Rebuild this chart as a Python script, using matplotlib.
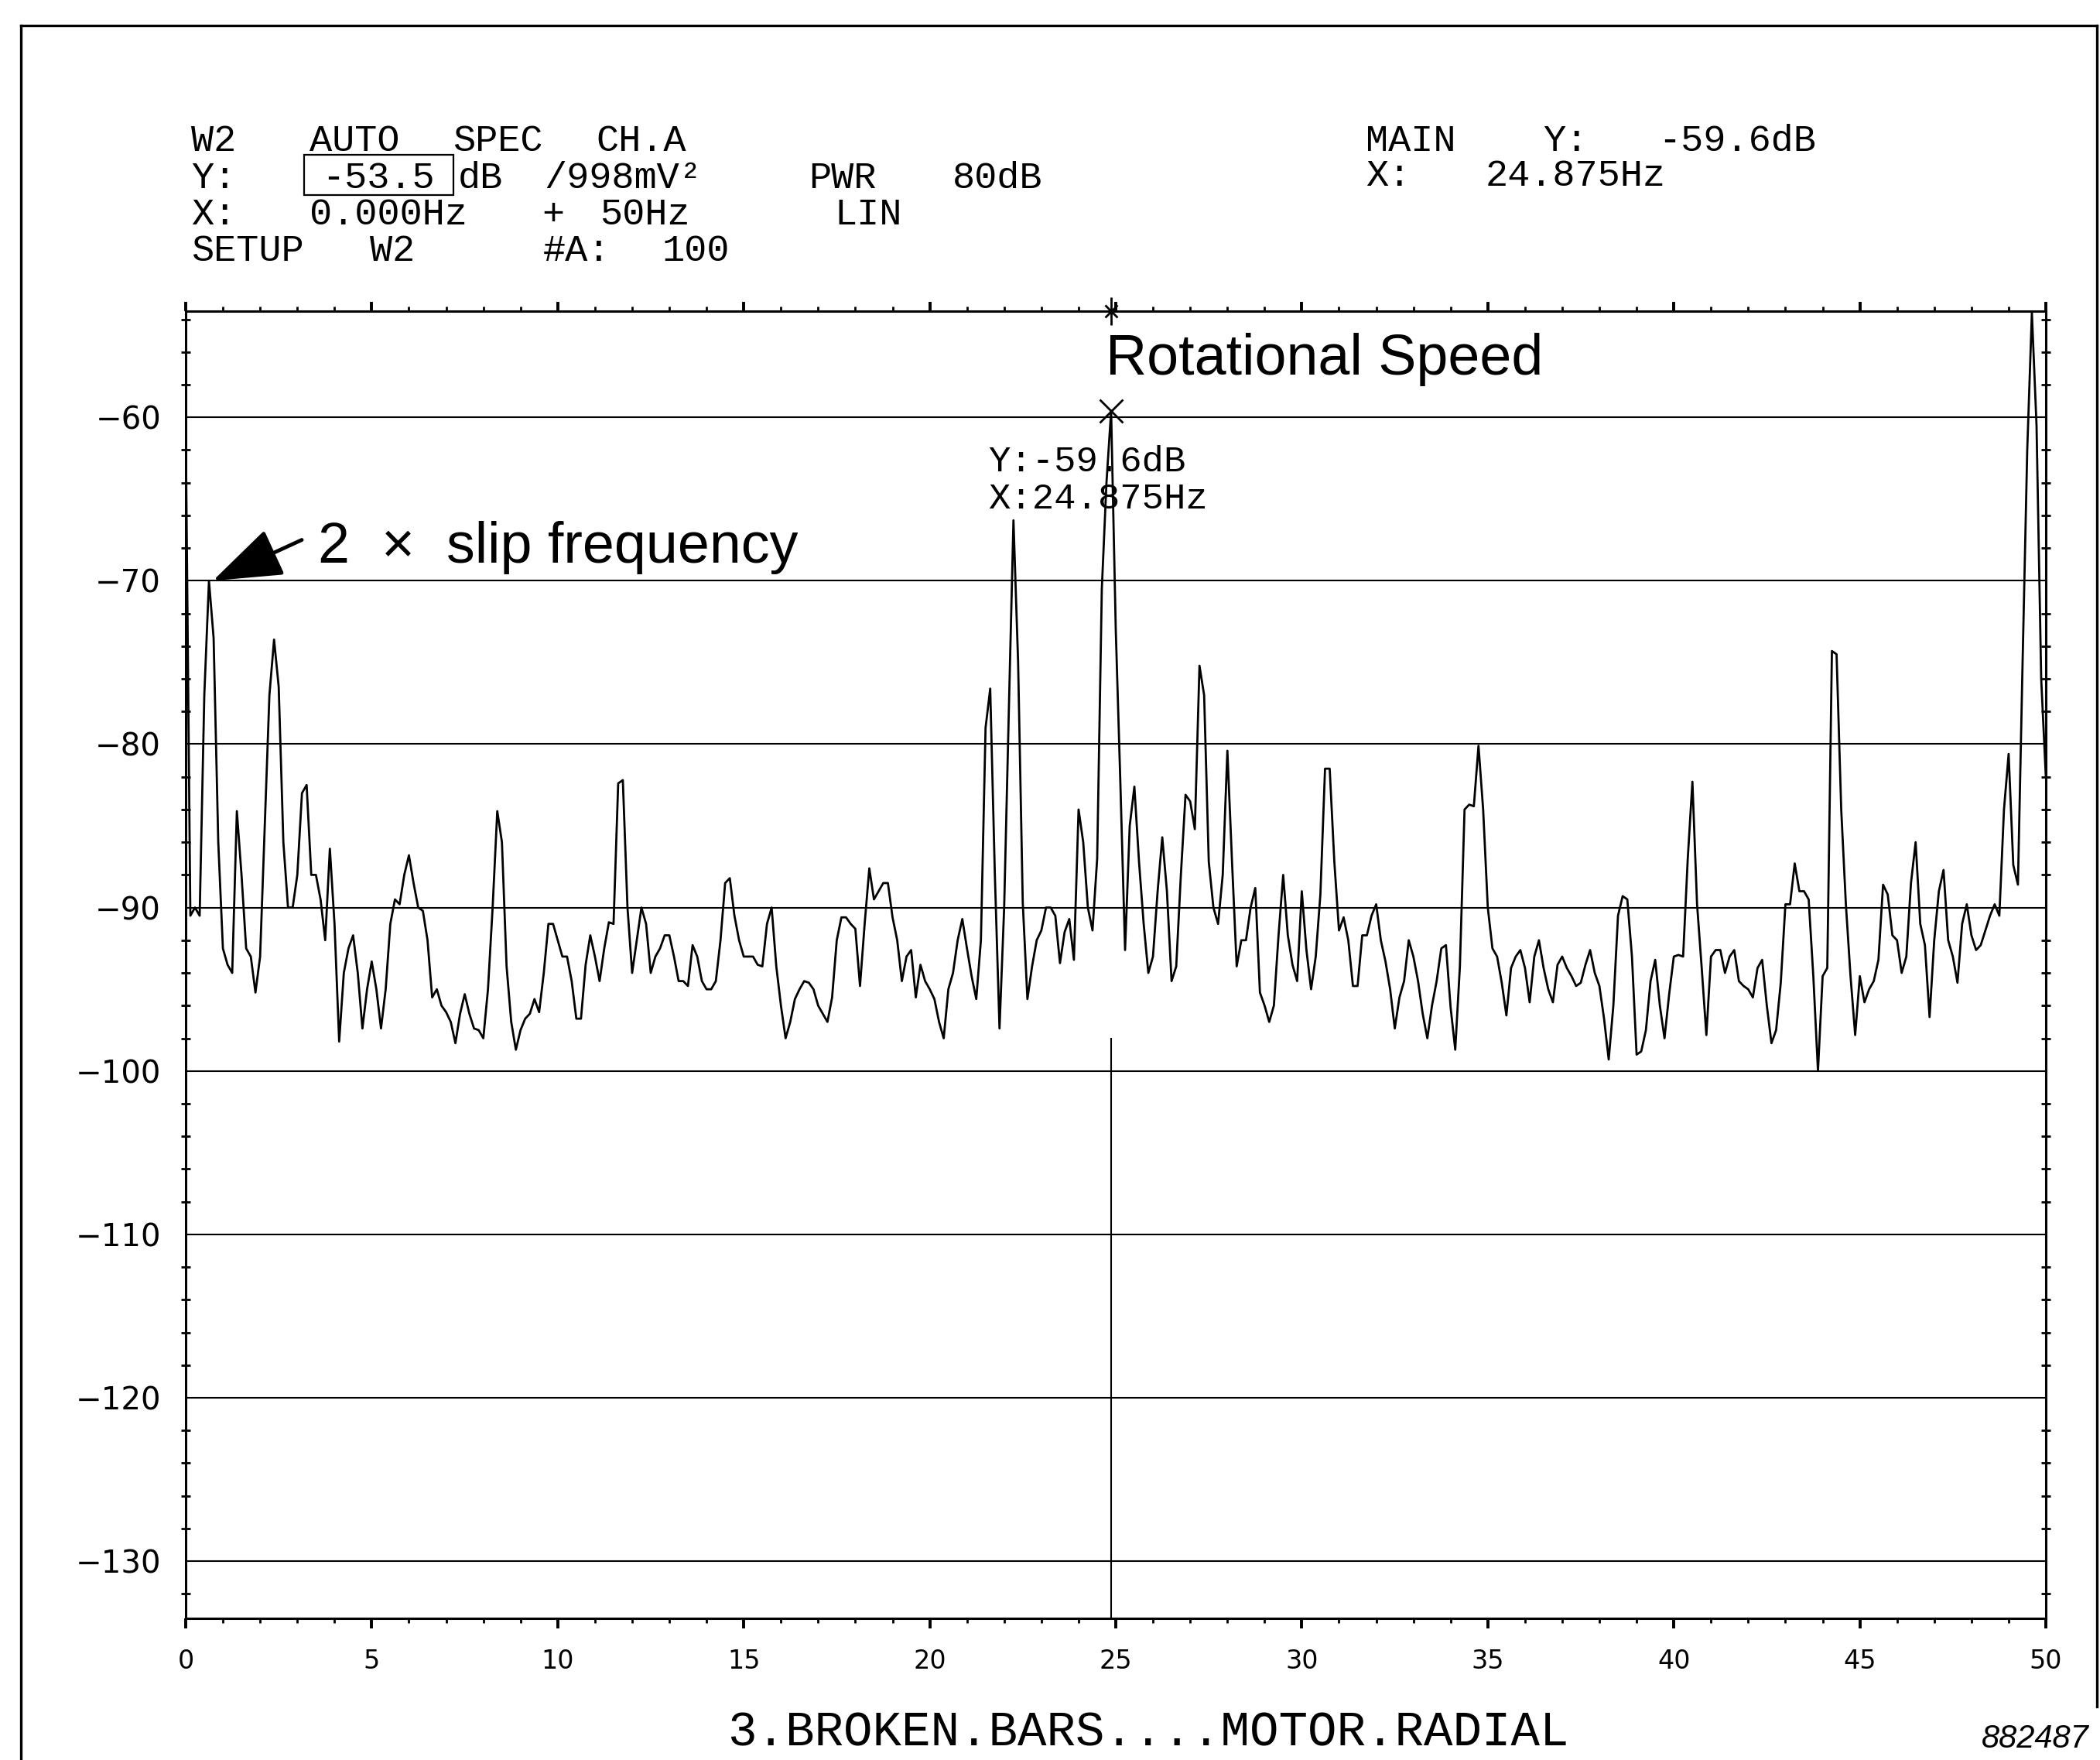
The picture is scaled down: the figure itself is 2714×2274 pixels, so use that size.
import numpy as np
import matplotlib
matplotlib.use("Agg")
import matplotlib.pyplot as plt
from matplotlib.ticker import MultipleLocator
from matplotlib.lines import Line2D
from matplotlib.patches import Rectangle

W, H, DPI = 2714, 2274, 100

# ---------------- data ----------------
freq_step_hz = 0.125
level_db = [
    -60.5, -90.5, -90.0, -90.5, -77.0, -70.0, -73.5, -86.0,   # 0 Hz
    -92.5, -93.5, -94.0, -84.1, -88.0, -92.5, -93.0, -95.2,   # 1
    -93.0, -85.0, -77.0, -73.6, -76.5, -86.0, -90.0, -90.0,   # 2
    -88.0, -83.0, -82.5, -88.0, -88.0, -89.5, -92.0, -86.4,   # 3
    -91.0, -98.2, -94.0, -92.5, -91.7, -94.0, -97.4, -95.0,   # 4
    -93.3, -95.0, -97.4, -95.0, -91.0, -89.5, -89.8, -88.0,   # 5
    -86.8, -88.5, -90.0, -90.2, -92.0, -95.5, -95.0, -96.0,   # 6
    -96.4, -97.0, -98.3, -96.5, -95.3, -96.5, -97.4, -97.5,   # 7
    -98.0, -95.0, -90.0, -84.1, -86.0, -93.6, -97.0, -98.7,   # 8
    -97.5, -96.8, -96.5, -95.6, -96.4, -94.0, -91.0, -91.0,   # 9
    -92.0, -93.0, -93.0, -94.5, -96.8, -96.8, -93.5, -91.7,   # 10
    -93.0, -94.5, -92.5, -90.9, -91.0, -82.4, -82.2, -90.0,   # 11
    -94.0, -92.0, -90.0, -91.0, -94.0, -93.0, -92.5, -91.7,   # 12
    -91.7, -93.0, -94.5, -94.5, -94.8, -92.3, -93.0, -94.5,   # 13
    -95.0, -95.0, -94.5, -92.0, -88.5, -88.2, -90.5, -92.0,   # 14
    -93.0, -93.0, -93.0, -93.5, -93.6, -91.0, -90.0, -93.6,   # 15
    -96.0, -98.0, -97.0, -95.6, -95.0, -94.5, -94.6, -95.0,   # 16
    -96.0, -96.5, -97.0, -95.5, -92.0, -90.6, -90.6, -91.0,   # 17
    -91.3, -94.8, -91.0, -87.6, -89.5, -89.0, -88.5, -88.5,   # 18
    -90.6, -92.0, -94.5, -93.0, -92.6, -95.5, -93.5, -94.5,   # 19
    -95.0, -95.6, -97.0, -98.0, -95.0, -94.0, -92.0, -90.7,   # 20
    -92.5, -94.2, -95.6, -92.0, -79.0, -76.6, -88.0, -97.4,   # 21
    -90.0, -78.0, -66.3, -75.0, -89.7, -95.6, -93.6, -92.0,   # 22
    -91.4, -90.0, -90.0, -90.5, -93.4, -91.5, -90.7, -93.2,   # 23
    -84.0, -86.0, -90.0, -91.4, -87.0, -70.5, -64.0, -59.6,   # 24
    -73.0, -82.5, -92.6, -85.0, -82.6, -87.2, -91.0, -94.0,   # 25
    -93.0, -89.0, -85.7, -89.0, -94.5, -93.6, -88.0, -83.1,   # 26
    -83.5, -85.2, -75.2, -77.0, -87.2, -90.0, -91.0, -88.0,   # 27
    -80.4, -87.2, -93.6, -92.0, -92.0, -90.0, -88.8, -95.2,   # 28
    -96.0, -97.0, -96.0, -91.7, -88.0, -91.7, -93.5, -94.5,   # 29
    -89.0, -92.6, -95.0, -93.0, -89.2, -81.5, -81.5, -87.2,   # 30
    -91.4, -90.6, -92.0, -94.8, -94.8, -91.7, -91.7, -90.5,   # 31
    -89.8, -92.0, -93.3, -95.0, -97.4, -95.5, -94.5, -92.0,   # 32
    -93.0, -94.5, -96.5, -98.0, -96.0, -94.5, -92.5, -92.3,   # 33
    -96.1, -98.7, -93.6, -84.0, -83.7, -83.8, -80.1, -84.0,   # 34
    -90.0, -92.5, -93.0, -94.6, -96.6, -93.7, -93.0, -92.6,   # 35
    -93.7, -95.8, -93.0, -92.0, -93.7, -95.0, -95.8, -93.5,   # 36
    -93.0, -93.7, -94.2, -94.8, -94.6, -93.5, -92.6, -94.0,   # 37
    -94.8, -96.8, -99.3, -96.0, -90.5, -89.3, -89.5, -93.0,   # 38
    -99.0, -98.8, -97.5, -94.5, -93.2, -96.0, -98.0, -95.3,   # 39
    -93.0, -92.9, -93.0, -87.0, -82.3, -89.8, -93.7, -97.8,   # 40
    -93.0, -92.6, -92.6, -94.0, -93.0, -92.6, -94.5, -94.8,   # 41
    -95.0, -95.5, -93.7, -93.2, -96.0, -98.3, -97.5, -94.6,   # 42
    -89.8, -89.8, -87.3, -89.0, -89.0, -89.5, -94.2, -100.0,  # 43
    -94.2, -93.7, -74.3, -74.5, -84.0, -89.8, -94.2, -97.8,   # 44
    -94.2, -95.8, -95.0, -94.5, -93.2, -88.6, -89.2, -91.7,   # 45
    -92.0, -94.0, -93.0, -88.5, -86.0, -91.0, -92.3, -96.7,   # 46
    -92.0, -89.0, -87.7, -92.0, -93.0, -94.6, -91.0, -89.8,   # 47
    -91.7, -92.6, -92.3, -91.4, -90.5, -89.8, -90.5, -84.0,   # 48
    -80.6, -87.4, -88.6, -75.0, -62.0, -53.6, -60.5, -76.0,   # 49
    -82.0,                                                    # 50
]
freq_hz = np.arange(len(level_db)) * freq_step_hz

y_ticks = [-60, -70, -80, -90, -100, -110, -120, -130]
x_ticks = [0, 5, 10, 15, 20, 25, 30, 35, 40, 45, 50]
y_range = (-133.5, -53.5)
x_range = (0, 50)

cursor_freq = 24.875
cursor_level = -59.6
slip_freq = 0.73
slip_level = -70.0

# ---------------- figure ----------------
fig = plt.figure(figsize=(W / DPI, H / DPI), dpi=DPI)
fig.patch.set_facecolor("white")

ax_l, ax_r, ax_t, ax_b = 240, 2644, 402, 2091
ax = fig.add_axes([ax_l / W, 1 - ax_b / H, (ax_r - ax_l) / W, (ax_b - ax_t) / H])
ax.set_xlim(*x_range)
ax.set_ylim(*y_range)

for s in ax.spines.values():
    s.set_linewidth(2.2)
    s.set_color("black")

ax.set_yticks(y_ticks)
ax.set_xticks(x_ticks)
ax.xaxis.set_minor_locator(MultipleLocator(1))
ax.yaxis.set_minor_locator(MultipleLocator(2))

ax.tick_params(axis="x", which="major", direction="out", length=9, width=2.8,
               top=True, bottom=True, labelsize=24, pad=19)
ax.tick_params(axis="x", which="minor", direction="out", length=4, width=2,
               top=True, bottom=True)
ax.tick_params(axis="y", which="major", length=0, left=True, right=True,
               labelsize=29, pad=23)
ax.tick_params(axis="y", which="minor", direction="inout", length=8, width=2,
               left=True, right=True)
for lab in ax.get_xticklabels() + ax.get_yticklabels():
    lab.set_fontfamily("DejaVu Sans")

ax.yaxis.grid(True, which="major", color="black", linewidth=1.5)
ax.set_axisbelow(True)

# spectrum trace
ax.plot(freq_hz, level_db, color="black", linewidth=2.0, zorder=3)

# cursor marker and cursor line
ax.plot([cursor_freq], [cursor_level], marker="x", markersize=22, mew=2,
        color="black", zorder=4)
ax.plot([cursor_freq, cursor_freq], [-98, y_range[0]], color="black",
        linewidth=1.5, zorder=3)
ax.plot([cursor_freq], [y_range[1]], marker="|", markersize=26, mew=2,
        color="black", clip_on=False, zorder=5)
ax.plot([cursor_freq], [y_range[1]], marker="x", markersize=11, mew=2,
        color="black", clip_on=False, zorder=5)

mono = "Liberation Mono"
ax.text(21.58, -63.3, "Y:-59.6dB", fontfamily=mono, fontsize=34,
        ha="left", va="baseline")
ax.text(21.58, -65.6, "X:24.875Hz", fontfamily=mono, fontsize=34,
        ha="left", va="baseline")

# annotations
ax.text(24.72, -57.4, "Rotational Speed", fontfamily="Liberation Sans",
        fontsize=53, ha="left", va="baseline")
ax.text(3.56, -68.9, "2  \u00d7  slip frequency", fontfamily="Liberation Sans",
        fontsize=53, ha="left", va="baseline")
ax.annotate("", xy=(slip_freq, slip_level), xytext=(3.12, -67.5),
            arrowprops=dict(arrowstyle="-|>,head_length=1.4,head_width=0.5",
                            mutation_scale=40, lw=3.5, color="black",
                            shrinkA=0, shrinkB=0), zorder=6)


# ---------------- header texts ----------------
def ftext(x, y, s, ha="left", **kw):
    kw.setdefault("fontfamily", mono)
    kw.setdefault("fontsize", 35)
    fig.text(x / W, 1 - y / H, s, ha=ha, va="baseline", **kw)


# line 1
for x, s in [(247, "W2"), (400, "AUTO"), (585, "SPEC"), (770, "CH.A"),
             (1765, "MAIN"), (1994, "Y:"), (2143, "-59.6dB")]:
    ftext(x, 195, s)
# line 2
for x, s in [(247, "Y:"), (592, "dB"), (703, "/998mV\u00b2"), (1045, "PWR"),
             (1231, "80dB")]:
    ftext(x, 243, s)
ftext(489, 243, "-53.5", ha="center")
for x, s in [(1765, "X:"), (1920, "24.875Hz")]:
    ftext(x, 240, s)
# line 3
for x, s in [(247, "X:"), (400, "0.000Hz"), (700, "+"), (775, "50Hz"),
             (1078, "LIN")]:
    ftext(x, 290, s)
# line 4
for x, s in [(247, "SETUP"), (478, "W2"), (702, "#A:"), (855, "100")]:
    ftext(x, 337, s)

fig.add_artist(Rectangle((393 / W, 1 - 252 / H), (586 - 393) / W, 52 / H,
                         transform=fig.transFigure, fill=False, lw=1.6,
                         ec="black"))

# bottom texts
fig.text(1484 / W, 1 - 2256 / H, "3.BROKEN.BARS....MOTOR.RADIAL",
         fontfamily=mono, fontsize=45, ha="center", va="baseline")
fig.text(2700 / W, 1 - 2258 / H, "882487", fontfamily="Liberation Sans",
         fontstyle="italic", fontsize=30, ha="right", va="baseline")


# outer frame
def fline(xs, ys, lw=2.4):
    fig.add_artist(Line2D([x / W for x in xs], [1 - y / H for y in ys],
                          transform=fig.transFigure, color="black", lw=lw))


fline([27, 27], [33, 2274])
fline([27, 2710], [33, 33])
fline([2710, 2710], [33, 2205])

fig.savefig("out.png", dpi=DPI, facecolor="white")
